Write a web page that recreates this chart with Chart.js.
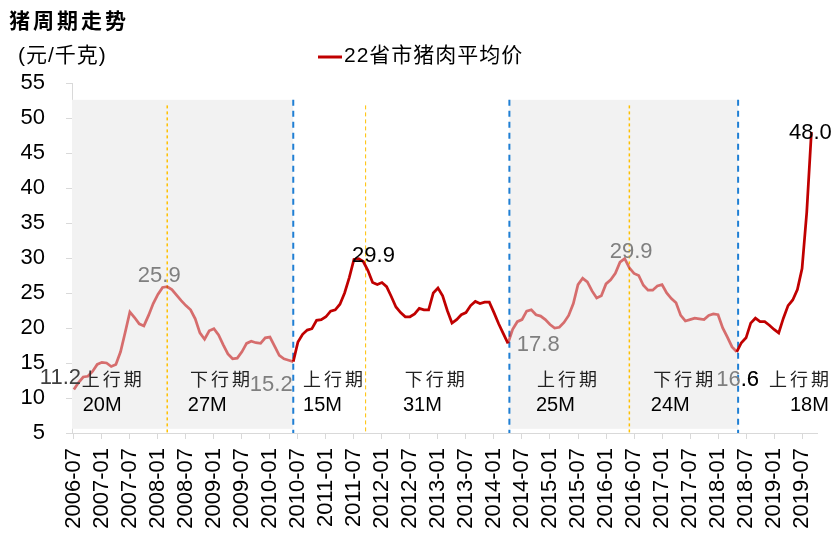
<!DOCTYPE html>
<html>
<head>
<meta charset="utf-8">
<title>猪周期走势</title>
<script src="https://cdn.jsdelivr.net/npm/chart.js@4.4.0/dist/chart.umd.min.js"></script>
<style>
  html, body { margin: 0; padding: 0; background: #fff; }
  #wrap { width: 833px; height: 539px; }
</style>
</head>
<body>
<div id="wrap"><canvas id="pigChart" width="833" height="539"></canvas></div>
<script>
// Monthly price, 2006-07 ... 2019-09 (yuan/kg), one value per month
const prices = [
  11.2, 12.2, 13.0, 13.1, 13.8, 14.8, 15.1, 15.0, 14.5, 14.8,
  16.6, 19.4, 22.3, 21.5, 20.6, 20.3, 21.8, 23.5, 24.8, 25.8,
  25.9, 25.5, 24.7, 23.9, 23.2, 22.6, 21.3, 19.3, 18.4, 19.6,
  19.9, 19.0, 17.6, 16.3, 15.6, 15.7, 16.6, 17.8, 18.1, 17.9,
  17.8, 18.6, 18.7, 17.4, 16.1, 15.6, 15.4, 15.2, 18.0, 19.1,
  19.7, 19.9, 21.1, 21.2, 21.6, 22.4, 22.6, 23.4, 25.0, 27.2,
  29.8, 29.9, 29.5, 28.2, 26.5, 26.2, 26.5, 25.9, 24.5, 23.0,
  22.2, 21.6, 21.6, 22.0, 22.8, 22.6, 22.6, 25.0, 25.7, 24.6,
  22.5, 20.7, 21.2, 21.9, 22.2, 23.2, 23.8, 23.5, 23.7, 23.7,
  22.2, 20.6, 19.2, 17.8, 19.8, 20.9, 21.2, 22.4, 22.6, 21.9,
  21.7, 21.2, 20.5, 20.0, 20.1, 20.8, 21.8, 23.5, 26.2, 27.1,
  26.6, 25.3, 24.3, 24.6, 26.3, 26.9, 27.8, 29.4, 29.9, 28.6,
  27.8, 27.5, 26.1, 25.4, 25.4, 26.0, 26.2, 25.0, 24.2, 23.6,
  21.8, 21.0, 21.2, 21.4, 21.3, 21.2, 21.8, 22.0, 21.9, 20.0,
  18.7, 17.3, 16.6, 17.9, 18.6, 20.7, 21.4, 20.9, 20.9, 20.4,
  19.8, 19.3, 21.4, 23.2, 24.0, 25.5, 28.5, 36.5, 48.0
];

// x axis labels, every 6 months
const tickLabels = [
  '2006-07', '2007-01', '2007-07', '2008-01', '2008-07', '2009-01', '2009-07',
  '2010-01', '2010-07', '2011-01', '2011-07', '2012-01', '2012-07', '2013-01',
  '2013-07', '2014-01', '2014-07', '2015-01', '2015-07', '2016-01', '2016-07',
  '2017-01', '2017-07', '2018-01', '2018-07', '2019-01', '2019-07'
];

const seriesName = '22省市猪肉平均价';

// cycle markers, in month index
const troughLines = [47, 93.3, 142.3];      // blue dashed
const peakLines = [20, 62.5, 119];          // orange dashed
const shadedSpans = [[-0.4, 47], [93.3, 142.3]];
const lightSpans = [[0, 47], [93, 142]];    // line drawn lighter here

// labels: [text, month, value, color]
const valueLabels = [
  ['11.2', -7.3, 12.9, '#404040'],
  ['25.9', 13.7, 27.5, '#7f7f7f'],
  ['15.2', 37.7, 11.9, '#7f7f7f'],
  ['29.9', 59.6, 30.3, '#000000'],
  ['17.8', 94.9, 17.6, '#7f7f7f'],
  ['29.9', 114.8, 30.9, '#7f7f7f'],
  ['16.6', 137.6, 12.6, '#7f7f7f'],
  ['48.0', 153.2, 47.9, '#000000']
];
const phaseLabels = [
  ['上行期', '20M', 1.7, 1.9],
  ['下行期', '27M', 24.9, 24.4],
  ['上行期', '15M', 49.1, 49.1],
  ['下行期', '31M', 70.9, 70.5],
  ['上行期', '25M', 99.2, 99.0],
  ['下行期', '24M', 124.1, 123.6],
  ['上行期', '18M', 148.9, 153.4]
];
const phaseRows = [12.7, 9.0];   // value positions of the two text rows

const DARK = '#C00000';
const LIGHT = 'rgba(192, 0, 0, 0.55)';
const FONT = '"Liberation Sans", Arial, "Noto Sans CJK SC", sans-serif';
const CJK = '"Noto Sans CJK SC", sans-serif';

function inLight(i) {
  return lightSpans.some(s => i >= s[0] && i < s[1]);
}

// shading, dashed lines and texts
const cyclePlugin = {
  id: 'cycleMarks',
  beforeDatasetsDraw(chart) {
    const ctx = chart.ctx;
    const xs = chart.scales.x, ys = chart.scales.y;
    ctx.save();
    ctx.fillStyle = '#F2F2F2';
    shadedSpans.forEach(s => {
      const x0 = xs.getPixelForValue(s[0]), x1 = xs.getPixelForValue(s[1]);
      const y0 = ys.getPixelForValue(52.6), y1 = ys.getPixelForValue(5.6);
      ctx.fillRect(x0, y0, x1 - x0, y1 - y0);
    });

    ctx.strokeStyle = '#FFC000';
    peakLines.forEach((m, k) => {
      const x = xs.getPixelForValue(m);
      ctx.lineWidth = k === 1 ? 1 : 1.5;
      ctx.setLineDash(k === 1 ? [4, 3] : [3, 3]);
      ctx.beginPath();
      ctx.moveTo(x, ys.getPixelForValue(51.8));
      ctx.lineTo(x, ys.bottom);
      ctx.stroke();
    });

    ctx.strokeStyle = '#1F7FD4';
    ctx.lineWidth = 2;
    ctx.setLineDash([6, 5]);
    troughLines.forEach(m => {
      const x = xs.getPixelForValue(m);
      ctx.beginPath();
      ctx.moveTo(x, ys.getPixelForValue(52.6));
      ctx.lineTo(x, ys.bottom);
      ctx.stroke();
    });
    ctx.restore();
  },
  afterDatasetsDraw(chart) {
    const ctx = chart.ctx;
    const xs = chart.scales.x, ys = chart.scales.y;
    ctx.save();
    ctx.textBaseline = 'middle';
    ctx.textAlign = 'left';

    valueLabels.forEach(l => {
      ctx.font = '22px ' + FONT;
      ctx.fillStyle = l[3];
      ctx.fillText(l[0], xs.getPixelForValue(l[1]), ys.getPixelForValue(l[2]));
    });
    // the 16.6 label is partly overprinted in black in the source
    const last = valueLabels[6];
    ctx.textAlign = 'right';
    ctx.fillStyle = '#000';
    ctx.fillText('.6', xs.getPixelForValue(last[1]) + ctx.measureText(last[0]).width, ys.getPixelForValue(last[2]));
    ctx.textAlign = 'left';

    phaseLabels.forEach(p => {
      ctx.font = '18px ' + CJK;
      ctx.letterSpacing = '3px';
      ctx.fillStyle = '#222';
      ctx.fillText(p[0], xs.getPixelForValue(p[2]), ys.getPixelForValue(phaseRows[0]));
      ctx.letterSpacing = '0px';
      ctx.font = '20px ' + FONT;
      ctx.fillStyle = '#000';
      ctx.fillText(p[1], xs.getPixelForValue(p[3]), ys.getPixelForValue(phaseRows[1]));
    });
    ctx.restore();
  },
  afterDraw(chart) {
    const ctx = chart.ctx;
    ctx.save();
    ctx.textBaseline = 'middle';
    ctx.textAlign = 'left';
    ctx.fillStyle = '#000';

    // title
    ctx.font = 'bold 21px ' + CJK;
    ctx.letterSpacing = '3px';
    ctx.fillText('猪周期走势', 9, 20);

    // unit
    ctx.font = '21px ' + FONT;
    ctx.letterSpacing = '1px';
    ctx.fillText('(元/千克)', 18, 56);

    // legend
    ctx.strokeStyle = DARK;
    ctx.lineWidth = 3;
    ctx.beginPath();
    ctx.moveTo(318, 57);
    ctx.lineTo(342, 57);
    ctx.stroke();
    ctx.font = '21px ' + FONT;
    ctx.letterSpacing = '1px';
    ctx.fillText(chart.data.datasets[0].label, 344, 56);
    ctx.restore();
  }
};

const ctx = document.getElementById('pigChart').getContext('2d');
new Chart(ctx, {
  type: 'line',
  data: {
    datasets: [{
      label: seriesName,
      data: prices.map((v, i) => ({ x: i, y: v })),
      borderColor: DARK,
      borderWidth: 2.75,
      pointRadius: 0,
      tension: 0,
      segment: {
        borderColor: c => inLight(c.p0DataIndex) ? LIGHT : DARK
      }
    }]
  },
  options: {
    responsive: false,
    animation: false,
    devicePixelRatio: 1,
    layout: { padding: { top: 83, right: 16, left: 0, bottom: 0 } },
    plugins: {
      legend: { display: false },
      tooltip: { enabled: false }
    },
    scales: {
      x: {
        type: 'linear',
        min: -0.4,
        max: 159.2,
        afterBuildTicks: scale => {
          scale.ticks = tickLabels.map((t, k) => ({ value: k * 6 }));
        },
        afterFit: scale => {
          scale.height = 106;
          scale.paddingLeft = 0;
          scale.paddingRight = 0;
        },
        ticks: {
          autoSkip: false,
          minRotation: 90,
          maxRotation: 90,
          padding: 9,
          color: '#000',
          font: { family: FONT, size: 22 },
          callback: v => tickLabels[v / 6]
        },
        grid: { drawOnChartArea: false, tickLength: 6, color: '#D9D9D9' },
        border: { color: '#D9D9D9' }
      },
      y: {
        min: 5,
        max: 55,
        afterFit: scale => { scale.width = 72; },
        ticks: {
          stepSize: 5,
          padding: 21,
          color: '#000',
          font: { family: FONT, size: 22 }
        },
        grid: { drawOnChartArea: false, tickLength: 6, color: '#D9D9D9' },
        border: { color: '#D9D9D9' }
      }
    }
  },
  plugins: [cyclePlugin]
});
</script>
</body>
</html>
